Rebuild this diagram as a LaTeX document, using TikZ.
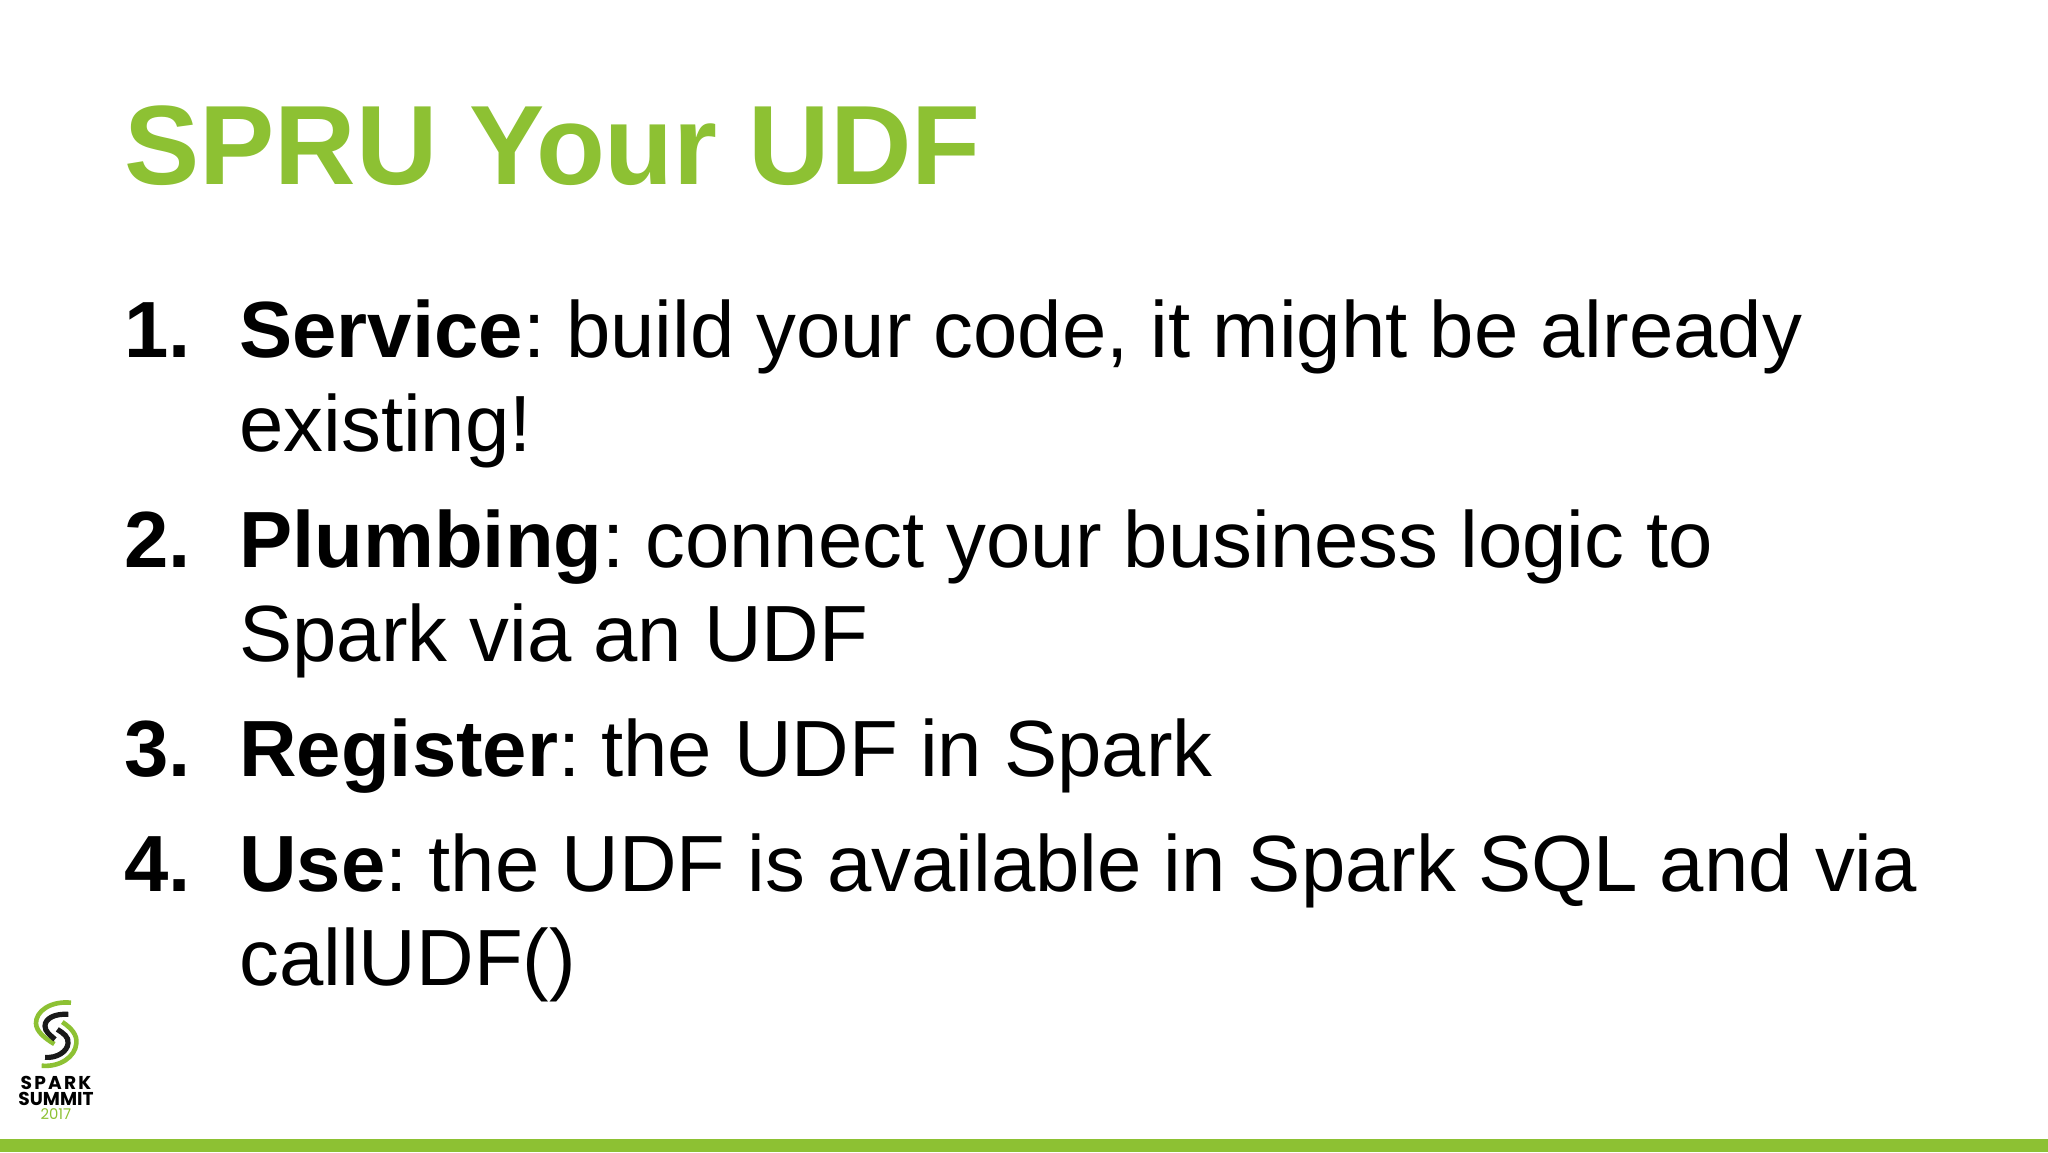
\documentclass[tikz,border=0pt]{standalone}
\usepackage{fontspec}
\setmainfont{Liberation Sans}
\newfontfamily\logofont{Poppins}
\definecolor{sparkgreen}{HTML}{8DC133}
\tikzset{
  titletext/.style={anchor=base west,inner sep=0pt,text=sparkgreen,font=\fontsize{56.4pt}{60pt}\selectfont\bfseries},
  bodytext/.style={anchor=base west,inner sep=0pt,text=black,font=\fontsize{39.85pt}{48pt}\selectfont},
  logotext/.style={anchor=base,inner sep=0pt,text=black,font=\logofont\fontsize{9.3pt}{10pt}\selectfont\bfseries},
  logoyear/.style={anchor=base,inner sep=0pt,text=sparkgreen,font=\logofont\fontsize{7.4pt}{8pt}\selectfont},
  greenarc/.style={draw=sparkgreen,line width=2.3pt,line cap=butt},
  blackarc/.style={draw=black!90,line width=2.6pt,line cap=butt}
}
\newcommand{\colongap}{\kern-0.6pt\ }
\begin{document}
\begin{tikzpicture}[x=0.5pt,y=-0.5pt]
\useasboundingbox (0,0) rectangle (2048,1152);
\fill[white] (0,0) rectangle (2048,1152);
\fill[sparkgreen] (0,1139) rectangle (2048,1152);
\node[titletext] (title) at (124,184.5) {SPRU Your UDF};
\node[bodytext] (n1) at (124,357) {\textbf{1.}};
\node[bodytext] (l1) at (239,357) {\textbf{Service}:\colongap build your code, it might be already};
\node[bodytext] (l1b) at (239,451) {existing!};
\node[bodytext] (n2) at (124,567) {\textbf{2.}};
\node[bodytext] (l2) at (239,567) {\textbf{Plumbing}:\colongap connect your business logic to};
\node[bodytext] (l2b) at (239,661) {Spark via an UDF};
\node[bodytext] (n3) at (124,776) {\textbf{3.}};
\node[bodytext] (l3) at (239,776) {\textbf{Register}:\colongap the UDF in Spark};
\node[bodytext] (n4) at (124,891) {\textbf{4.}};
\node[bodytext] (l4) at (239,891) {\textbf{Use}:\colongap the UDF is available in Spark SQL and via};
\node[bodytext] (l4b) at (239,985) {callUDF()};
% logo
\begin{scope}[shift={(0,980)},x=0.1667pt,y=-0.1667pt]
\draw[greenarc] (213,68) .. controls (150,62) and (107,95) .. (108,130) .. controls (109,155) and (135,175) .. (163,192);
\draw[greenarc] (187,126) .. controls (215,145) and (232,165) .. (229,190) .. controls (226,230) and (180,262) .. (125,257);
\draw[blackarc] (205,103) .. controls (165,100) and (135,115) .. (135,138) .. controls (135,155) and (150,165) .. (165,178);
\draw[blackarc] (172,148) .. controls (190,160) and (207,170) .. (204,190) .. controls (202,215) and (170,235) .. (135,232);
\end{scope}
\node[logotext,font=\logofont\fontsize{9.3pt}{10pt}\selectfont\bfseries\addfontfeature{LetterSpace=12}] (spark) at (56,1089) {SPARK};
\node[logotext] (summit) at (56,1105) {SUMMIT};
\node[logoyear] (year) at (56,1119) {2017};
\end{tikzpicture}
\end{document}
